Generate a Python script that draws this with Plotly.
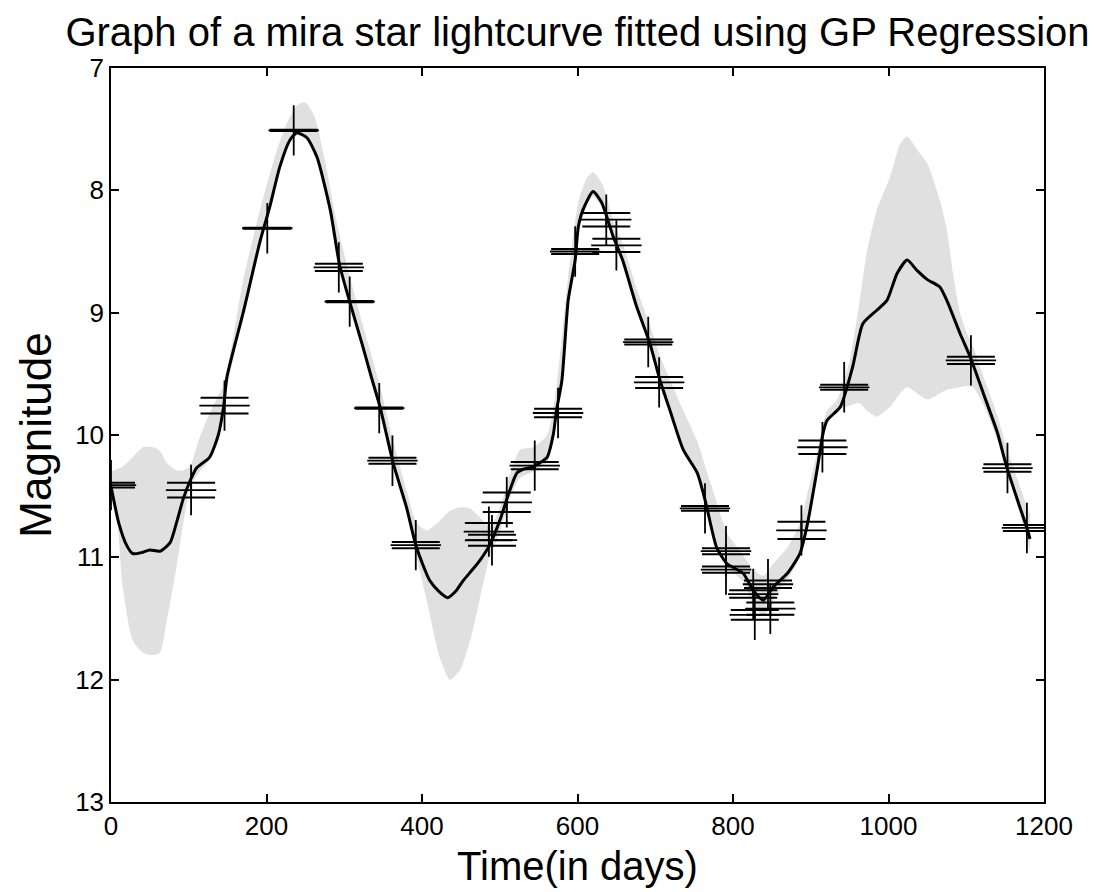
import plotly.graph_objects as go

# GP mean curve (days, magnitude)
mean_days = [0, 10, 20, 28, 40, 50, 63, 76, 85, 93, 102, 110, 127, 138, 145, 149, 170, 192, 204, 217,
             230, 239, 252, 265, 282, 294, 307, 324, 335, 346, 363, 380, 393, 410, 422, 433, 443, 453,
             465, 475, 487, 500, 513, 522, 530, 543, 561, 569, 573, 580, 588, 597, 601, 607, 620, 631,
             646, 658, 676, 693, 706, 719, 736, 754, 764, 767, 779, 792, 813, 826, 839, 852, 870, 886,
             895, 908, 916, 921, 938, 954, 967, 985, 998, 1011, 1024, 1036, 1050, 1066, 1075, 1092,
             1105, 1122, 1140, 1152, 1169, 1178, 1182]
mean_mag = [10.42, 10.72, 10.90, 10.97, 10.96, 10.94, 10.95, 10.88, 10.70, 10.52, 10.37, 10.27, 10.18,
            10.00, 9.76, 9.53, 9.00, 8.41, 8.14, 7.81, 7.59, 7.53, 7.57, 7.73, 8.16, 8.61, 8.91, 9.28,
            9.53, 9.77, 10.23, 10.59, 10.92, 11.19, 11.28, 11.33, 11.28, 11.19, 11.10, 11.02, 10.90,
            10.70, 10.45, 10.31, 10.28, 10.26, 10.18, 9.99, 9.80, 9.55, 8.90, 8.57, 8.30, 8.16, 8.01,
            8.10, 8.38, 8.57, 8.95, 9.25, 9.55, 9.80, 10.12, 10.31, 10.53, 10.61, 10.92, 11.05, 11.13,
            11.27, 11.35, 11.24, 11.13, 10.97, 10.75, 10.29, 9.98, 9.88, 9.77, 9.44, 9.09, 8.98, 8.90,
            8.68, 8.57, 8.65, 8.73, 8.79, 8.90, 9.17, 9.36, 9.66, 9.98, 10.26, 10.59, 10.76, 10.85]

# Confidence band (days, upper/brighter edge, lower/fainter edge)
band_days = [0, 8, 15, 28, 41, 54, 63, 72, 85, 93, 102, 114, 127, 144, 153, 170, 192, 205, 217, 230,
             240, 250, 262, 275, 290, 307, 324, 346, 363, 380, 393, 406, 423, 436, 449, 462, 474, 487,
             500, 513, 526, 543, 561, 573, 588, 601, 612, 620, 632, 646, 659, 676, 693, 706, 719, 736,
             754, 764, 779, 792, 813, 826, 839, 852, 870, 886, 895, 908, 916, 921, 934, 950, 963, 972,
             985, 1002, 1015, 1024, 1037, 1050, 1066, 1075, 1083, 1092, 1101, 1110, 1122, 1139, 1152,
             1169, 1182]
band_top = [10.30, 10.28, 10.26, 10.18, 10.10, 10.10, 10.13, 10.23, 10.29, 10.29, 10.25, 10.02, 9.82,
            9.60, 9.35, 8.73, 8.15, 7.85, 7.60, 7.40, 7.30, 7.28, 7.40, 7.75, 8.25, 8.70, 9.10, 9.60,
            10.05, 10.45, 10.72, 10.78, 10.70, 10.62, 10.59, 10.60, 10.67, 10.75, 10.60, 10.33, 10.12,
            10.10, 10.00, 9.60, 8.70, 8.10, 7.90, 7.85, 7.95, 8.25, 8.45, 8.80, 9.10, 9.35, 9.55, 9.80,
            10.05, 10.25, 10.55, 10.80, 10.98, 11.10, 11.15, 11.05, 10.92, 10.72, 10.50, 10.15, 9.90,
            9.80, 9.71, 9.39, 8.90, 8.51, 8.16, 7.89, 7.62, 7.56, 7.67, 7.78, 8.08, 8.32, 8.68, 9.00,
            9.17, 9.30, 9.52, 9.82, 10.10, 10.42, 10.65]
band_bot = [10.48, 10.70, 11.24, 11.68, 11.78, 11.80, 11.78, 11.51, 11.05, 10.72, 10.42, 10.30, 10.20,
            9.80, 9.50, 9.02, 8.43, 8.16, 7.83, 7.61, 7.55, 7.58, 7.70, 7.95, 8.48, 8.93, 9.30, 9.79,
            10.25, 10.62, 11.00, 11.35, 11.82, 12.00, 11.92, 11.68, 11.35, 11.00, 10.80, 10.52, 10.35,
            10.30, 10.22, 9.85, 8.95, 8.35, 8.12, 8.05, 8.14, 8.42, 8.60, 8.98, 9.27, 9.57, 9.82, 10.14,
            10.33, 10.55, 10.93, 11.07, 11.20, 11.38, 11.48, 11.35, 11.18, 11.00, 10.80, 10.33, 10.02,
            9.92, 9.80, 9.76, 9.74, 9.80, 9.85, 9.77, 9.66, 9.61, 9.66, 9.71, 9.66, 9.63, 9.62, 9.61,
            9.60, 9.62, 9.75, 10.02, 10.30, 10.65, 10.95]

# Observations (days, magnitude, error)
obs_days = [0, 103, 146, 201, 235, 293, 307, 345, 362, 392, 486, 490, 509, 545, 575, 597, 637, 650,
            691, 705, 764, 791, 791, 826, 828, 845, 848, 888, 915, 943, 1106, 1153, 1178]
obs_mag = [10.41, 10.45, 9.76, 8.31, 7.51, 8.63, 8.91, 9.78, 10.21, 10.90, 10.79, 10.86, 10.55, 10.25,
           9.82, 8.50, 8.24, 8.45, 9.24, 9.57, 10.60, 10.95, 11.10, 11.30, 11.47, 11.22, 11.42, 10.78,
           10.10, 9.61, 9.39, 10.27, 10.76]
obs_err = [0.02, 0.06, 0.065, 0.005, 0.005, 0.03, 0.005, 0.005, 0.025, 0.025, 0.07, 0.045, 0.08, 0.03,
           0.035, 0.02, 0.055, 0.055, 0.02, 0.045, 0.02, 0.025, 0.025, 0.03, 0.04, 0.03, 0.05, 0.07,
           0.055, 0.02, 0.03, 0.03, 0.025]

x_ticks = [0, 200, 400, 600, 800, 1000, 1200]
y_ticks = [7, 8, 9, 10, 11, 12, 13]

FONT = "Liberation Sans, Arial, sans-serif"
BAND = "#e0e0e0"

fig = go.Figure()
fig.add_trace(go.Scatter(x=band_days, y=band_top, mode="lines",
                         line=dict(width=0, color=BAND, shape="spline", smoothing=0.6),
                         showlegend=False, hoverinfo="skip"))
fig.add_trace(go.Scatter(x=band_days, y=band_bot, mode="lines",
                         line=dict(width=0, color=BAND, shape="spline", smoothing=0.6),
                         fill="tonexty", fillcolor=BAND, showlegend=False, hoverinfo="skip"))
fig.add_trace(go.Scatter(x=mean_days, y=mean_mag, mode="lines",
                         line=dict(color="black", width=3, shape="spline", smoothing=0.6),
                         showlegend=False))
fig.add_trace(go.Scatter(x=obs_days, y=obs_mag, mode="markers",
                         marker=dict(symbol="cross-thin-open", size=36, color="black",
                                     line=dict(color="black", width=1.8)),
                         error_y=dict(type="data", array=obs_err, visible=True, width=24,
                                      thickness=2, color="black"),
                         showlegend=False))

axis_common = dict(showline=True, linecolor="black", linewidth=1.5, mirror="ticks",
                   ticks="inside", ticklen=8, tickwidth=1.5, tickcolor="black",
                   showgrid=False, zeroline=False,
                   tickfont=dict(family=FONT, size=26, color="black"))

fig.update_xaxes(range=[0, 1200], tickvals=x_ticks, ticktext=[str(v) for v in x_ticks],
                 title=dict(text="Time(in days)", font=dict(family=FONT, size=40, color="black"),
                            standoff=12),
                 **axis_common)
fig.update_yaxes(range=[13, 7], tickvals=y_ticks, ticktext=[str(v) for v in y_ticks],
                 title=dict(text="Magnitude", font=dict(family=FONT, size=44, color="black"),
                            standoff=10),
                 **axis_common)

fig.update_layout(
    width=1100, height=892,
    margin=dict(l=111, r=56, t=68, b=90),
    paper_bgcolor="white", plot_bgcolor="white",
    title=dict(text="Graph of a mira star lightcurve fitted using GP Regression",
               font=dict(family=FONT, size=40, color="black"),
               x=0.5, xref="paper", xanchor="center",
               y=1 - 32 / 892, yref="container", yanchor="middle"),
)

fig.write_html("out.html")
